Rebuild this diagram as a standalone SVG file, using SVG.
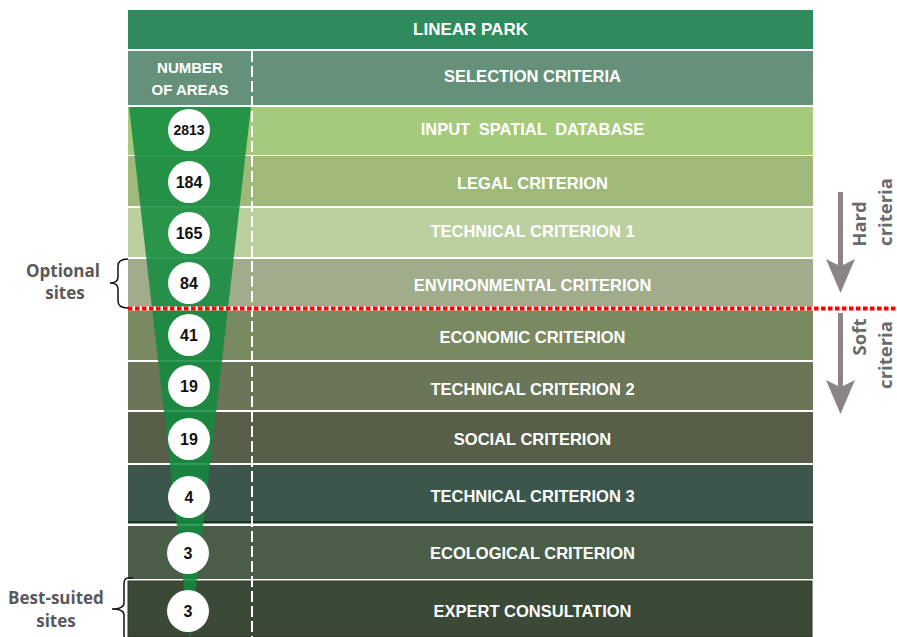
<svg xmlns="http://www.w3.org/2000/svg" width="897" height="637" viewBox="0 0 897 637">
<style>
.lbl{font-family:"Liberation Sans",Arial,sans-serif;font-weight:bold;font-size:16.5px;fill:#ffffff;text-anchor:middle}
.num{font-family:"Liberation Sans",Arial,sans-serif;font-weight:bold;font-size:16px;fill:#111111;text-anchor:middle}
.side{font-family:"Open Sans","Liberation Sans",sans-serif;font-weight:bold;font-size:17px;fill:#59595b;text-anchor:middle}
.rot{font-family:"Open Sans","Liberation Sans",sans-serif;font-weight:bold;font-size:18.5px;fill:#6a6a6a;text-anchor:middle}
.circ{fill:#ffffff}
.brace{fill:none;stroke:#111111;stroke-width:1.5}
.arrow{fill:#8b8587}
</style>
<rect width="897" height="637" fill="#ffffff"/>
<g id="header">
<rect x="128" y="10" width="685" height="39" fill="#2f8a5c"/>
<text class="lbl" x="470.5" y="35" style="font-size:17px">LINEAR PARK</text>
</g>
<g id="selection">
<rect x="128" y="51" width="685" height="54" fill="#65917a"/>
<text class="lbl" x="532.5" y="82">SELECTION CRITERIA</text>
<text class="lbl" x="190" y="73" style="font-size:15px">NUMBER</text>
<text class="lbl" x="190" y="95" style="font-size:15px">OF AREAS</text>
</g>
<g id="rows">
<g id="row-input"><rect x="128" y="107" width="685" height="48" fill="#a6ca7b"/></g>
<g id="row-legal"><rect x="128" y="156" width="685" height="50" fill="#9fb97b"/></g>
<g id="row-tech1"><rect x="128" y="208" width="685" height="49" fill="#bbcf9f"/></g>
<g id="row-env"><rect x="128" y="259" width="685" height="49" fill="#a0ac8c"/></g>
<g id="row-econ"><rect x="128" y="310" width="685" height="50" fill="#7a8a60"/></g>
<g id="row-tech2"><rect x="128" y="362" width="685" height="48" fill="#6b7558"/></g>
<g id="row-social"><rect x="128" y="412" width="685" height="51" fill="#575f48"/></g>
<g id="row-tech3"><rect x="128" y="465" width="685" height="58" fill="#3d564b"/><rect x="128" y="521" width="685" height="2.5" fill="#1d3326"/></g>
<g id="row-eco"><rect x="128" y="526" width="685" height="53" fill="#4a5e47"/></g>
<g id="row-expert"><rect x="128" y="581" width="684" height="56" fill="#3b4937" stroke="#2a3527" stroke-width="1"/></g>
</g>
<g id="funnel">
<polygon points="129,107 251,107 190,640" fill="#128a3e" opacity="0.86"/>
</g>
<line x1="252" y1="51" x2="252" y2="637" stroke="#ffffff" stroke-width="2" stroke-dasharray="11 4"/>
<g id="labels">
<text class="lbl" x="532.5" y="135" style="word-spacing:4px">INPUT SPATIAL DATABASE</text>
<text class="lbl" x="532.5" y="189">LEGAL CRITERION</text>
<text class="lbl" x="532.5" y="237">TECHNICAL CRITERION 1</text>
<text class="lbl" x="532.5" y="291">ENVIRONMENTAL CRITERION</text>
<text class="lbl" x="532.5" y="343">ECONOMIC CRITERION</text>
<text class="lbl" x="532.5" y="395">TECHNICAL CRITERION 2</text>
<text class="lbl" x="532.5" y="445">SOCIAL CRITERION</text>
<text class="lbl" x="532.5" y="502">TECHNICAL CRITERION 3</text>
<text class="lbl" x="532.5" y="559">ECOLOGICAL CRITERION</text>
<text class="lbl" x="532.5" y="617">EXPERT CONSULTATION</text>
</g>
<g id="counts">
<g id="n2813"><circle class="circ" cx="189" cy="130" r="21"/><text class="num" x="189" y="135" style="font-size:14px">2813</text></g>
<g id="n184"><circle class="circ" cx="189" cy="182" r="21"/><text class="num" x="189" y="187.5">184</text></g>
<g id="n165"><circle class="circ" cx="189" cy="233" r="21"/><text class="num" x="189" y="238.5">165</text></g>
<g id="n84"><circle class="circ" cx="189" cy="283" r="21"/><text class="num" x="189" y="288.5">84</text></g>
<g id="n41"><circle class="circ" cx="189" cy="335" r="21"/><text class="num" x="189" y="340.5">41</text></g>
<g id="n19a"><circle class="circ" cx="189" cy="386" r="21"/><text class="num" x="189" y="391.5">19</text></g>
<g id="n19b"><circle class="circ" cx="189" cy="439" r="21"/><text class="num" x="189" y="444.5">19</text></g>
<g id="n4"><circle class="circ" cx="189" cy="497" r="21"/><text class="num" x="189" y="502.5">4</text></g>
<g id="n3a"><circle class="circ" cx="188" cy="553" r="21"/><text class="num" x="188" y="558.5">3</text></g>
<g id="n3b"><circle class="circ" cx="188" cy="611" r="21"/><text class="num" x="188" y="616.5">3</text></g>
</g>
<g id="divider">
<line x1="128" y1="308.5" x2="897" y2="308.5" stroke="#ffffff" stroke-width="4"/>
<line x1="128" y1="308.5" x2="897" y2="308.5" stroke="#ff0000" stroke-width="4" stroke-dasharray="4.5 2.5"/>
</g>
<g id="connectors">
<path class="brace" d="M128,259 Q118,259 118,266 L118,277 Q118,283 110,283 Q118,283 118,289 L118,301 Q118,308 128,308"/>
<path class="brace" d="M133,578 L128,578 Q124,578 124,584 L124,603 Q124,609 112,609 Q124,609 124,615 L124,634 Q124,640 128,640"/>
<polygon class="arrow" points="838,192 843,192 843,265 855,259 840.5,293 826,259 838,265"/>
<polygon class="arrow" points="838,313 843,313 843,386 855,380 840.5,414 826,380 838,386"/>
</g>
<g id="side-labels">
<text class="side" x="63" y="277">Optional</text>
<text class="side" x="65" y="299">sites</text>
<text class="side" x="56" y="604">Best-suited</text>
<text class="side" x="56" y="627">sites</text>
<text class="rot" transform="translate(866,224) rotate(-90)">Hard</text>
<text class="rot" transform="translate(892,212) rotate(-90)">criteria</text>
<text class="rot" transform="translate(866,337) rotate(-90)">Soft</text>
<text class="rot" transform="translate(892,355) rotate(-90)">criteria</text>
</g>
</svg>
